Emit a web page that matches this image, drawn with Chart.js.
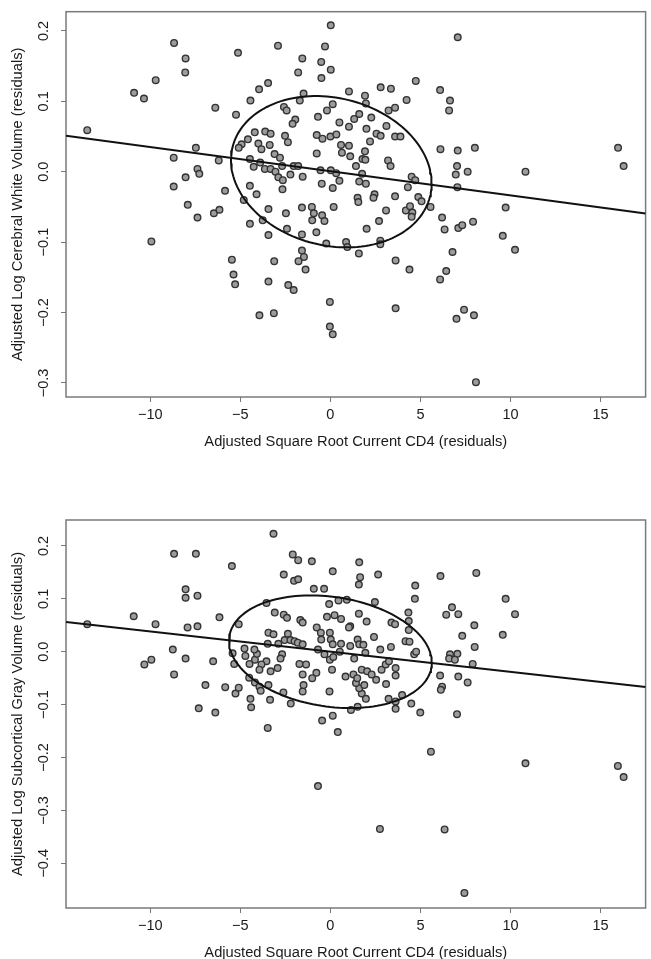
<!DOCTYPE html>
<html>
<head>
<meta charset="utf-8">
<script src="https://cdn.jsdelivr.net/npm/chart.js@4.4.1/dist/chart.umd.min.js"></script>
<style>
  html, body { margin: 0; padding: 0; background: #fff; }
  body { width: 651px; height: 959px; position: relative; overflow: hidden; }
  .panel { position: absolute; left: 0; width: 651px; }
</style>
</head>
<body>
<div class="panel" style="top:0;height:460px"><canvas id="whiteChart" width="651" height="460"></canvas></div>
<div class="panel" style="top:460px;height:511px"><canvas id="grayChart" width="651" height="511"></canvas></div>
<script>
// residuals, top panel (cerebral white volume vs sqrt CD4)
const whiteCd4 = [
  -13.5, -10.9, -10.35, -9.7, -8.68, -8.04, -8.06, -6.39, -5.24, -5.13,
  -4.44, -3.96, -3.46, -2.91, -2.58, -2.43, -1.79, -1.56, -1.49, -1.7,
  -1.95, -2.1, -0.51, 0.02, -0.3, 0.02, -0.5, -0.19, 0.13, -0.69,
  0.5, 1.03, 1.92, 1.97, 1.6, 1.32, 1.03, 2.27, 2.0, 2.2,
  2.79, 3.36, 3.11, 3.23, 3.59, 2.56, 2.79, 3.59, 3.89, 4.23,
  4.74, 6.09, 6.64, 6.59, 7.07, 6.11, 7.07, 8.02, 15.97, -7.47,
  -8.7, -6.2, -4.2, -3.62, -3.32, -4.58, -4.93, -5.09, -4.0, -3.83,
  -3.37, -2.52, -2.36, -3.1, -2.8, -0.76, -0.44, 0.0, 0.33, -0.76,
  0.59, 1.03, 0.64, 1.92, 1.1, 1.78, -4.47,
  -8.04, -7.38, -7.28, -8.7, -7.92, -7.38, -6.47, -6.16, -5.85, -9.94,
  -4.81, -4.47, -4.1, -4.26, -3.64, -3.9, -3.32, -3.05, -2.89, -2.64,
  -2.68, -2.22, -2.04, -1.79, -1.54, -2.66, -3.44, -2.47, -4.47, -3.76,
  -3.44, -2.41, -1.58, -1.03, -0.92, -1.01, -0.46, -0.33, 0.18, -0.78,
  -1.58, -0.23, 0.87, 0.94, 1.58, 2.01, 2.7, 2.77, 2.77, 3.09,
  2.45, 2.39, 1.51, 1.55, 3.59, 4.19, 4.42, 4.55, 4.51, 4.88,
  5.06, 5.56, 4.3, 4.51, 4.71, 3.62, 4.39, 6.2, 6.34, 7.1,
  7.32, 7.92, 7.05, 6.96, 7.03, 7.62, 6.78, 6.43, 6.09, 9.57,
  10.25, 9.73, 10.83, 16.28, -5.47, -5.38, -5.29, -3.12, -3.44, -2.34,
  -2.04, -1.58, -1.47, -1.77, -1.38, -0.03, 3.62, 7.42, -3.94, -3.14,
  -0.03, 0.13, 7.0, 7.97, 8.08,
  1.94, 1.42, 1.76, 1.97, 1.6, 0.5, 0.32, 0.02, -0.55, -0.48,
  0.13, 3.2, 3.34
];
const whiteVol = [
  0.059, 0.112, 0.104, 0.130, 0.183, 0.161, 0.141, 0.091, 0.081, 0.169,
  0.101, 0.117, 0.126, 0.179, 0.092, 0.087, 0.141, 0.161, 0.111, 0.101,
  0.074, 0.068, 0.156, 0.208, 0.178, 0.145, 0.133, 0.087, 0.096, 0.078,
  0.070, 0.114, 0.108, 0.097, 0.082, 0.075, 0.064, 0.077, 0.061, 0.043,
  0.120, 0.118, 0.065, 0.087, 0.091, 0.054, 0.051, 0.050, 0.050, 0.102,
  0.129, 0.116, 0.101, 0.087, 0.191, 0.032, 0.030, 0.034, 0.034, 0.034,
  0.020, 0.016, 0.056, 0.057, 0.054, 0.046, 0.039, 0.034, 0.040, 0.032,
  0.038, 0.051, 0.042, 0.025, 0.020, 0.052, 0.047, 0.050, 0.053, 0.026,
  0.038, 0.037, 0.027, 0.029, 0.022, 0.018, 0.018,
  -0.008, 0.004, -0.003, -0.021, -0.047, -0.065, -0.059, -0.054, -0.027, -0.099,
  -0.040, -0.020, -0.032, 0.007, 0.004, 0.013, 0.004, 0.000, -0.008, -0.012,
  0.008, -0.004, 0.008, 0.008, -0.007, -0.025, -0.053, -0.059, -0.074, -0.069,
  -0.090, -0.081, -0.051, -0.050, -0.059, -0.069, -0.062, -0.070, -0.050, -0.086,
  -0.089, -0.102, -0.100, -0.107, -0.116, -0.081, -0.070, -0.098, -0.103, -0.055,
  -0.032, -0.037, -0.037, -0.043, -0.035, -0.055, -0.049, -0.058, -0.064, -0.036,
  -0.042, -0.050, -0.022, -0.007, -0.012, -0.126, -0.139, -0.065, -0.082, -0.080,
  -0.076, -0.071, -0.022, -0.004, 0.008, 0.000, -0.114, -0.141, -0.153, -0.091,
  -0.111, -0.051, 0.000, 0.008, -0.125, -0.146, -0.160, -0.127, -0.156, -0.161,
  -0.168, -0.112, -0.121, -0.127, -0.139, -0.185, -0.194, -0.196, -0.204, -0.201,
  -0.220, -0.231, -0.209, -0.204, -0.299,
  0.017, 0.008, -0.003, -0.017, -0.014, -0.013, -0.002, 0.002, 0.002, -0.017,
  -0.023, 0.016, 0.008
];

// residuals, bottom panel (subcortical gray volume vs sqrt CD4)
const grayCd4 = [
  -3.16, -8.68, -7.47, -5.47, -2.09, -1.79, -1.03, 1.6, -2.59, -2.02,
  -1.79, 0.13, 1.65, 1.58, 2.65, 6.11, 8.1, 4.71, 4.69, -0.92,
  -0.35, -8.04, -8.04, -7.38, -3.55, -0.07, 0.45, 0.91, 2.47, 9.73,
  10.25, 6.75, 6.43, 7.1, 4.33, 4.35, 3.39, 3.59, 2.01, 1.58,
  1.1, 0.59, 0.23, -0.19, -0.76, -3.09, -2.59, -2.41, -1.67, -1.54,
  -6.16, -10.92, -9.71, -7.93, -7.38, -13.5, 7.99, -5.09,
  7.32, 9.57, 8.01, 7.05, 6.64, 6.59, 6.91, 7.9, 6.09, 6.2,
  6.13, 7.1, 7.62, 7.03, 4.99, 4.49, 3.98, 3.62, 3.62, 3.23,
  1.51, 1.14, -0.46, 0.13, 0.41, -3.48, 5.58, 10.83, 15.96, 16.28,
  -0.69, -10.33, -9.94, -8.75, -8.04, -8.68, -6.51, -6.94, -5.84, -5.27,
  -5.09, -7.31, -6.39, -4.44, -4.4, -3.35, -2.2, -2.61, -1.54, -1.49,
  -0.05, 1.74, 1.97, 1.6, 1.88, 1.42, 2.54, 3.09, 1.28, 1.49,
  0.84, 1.74, 2.04, 2.29, 2.84, 3.07, 3.25, 3.62, 3.62, 0.09,
  -0.78, -1.01, -1.54, -1.72, -1.35, -2.93, -3.32, -3.55, -3.83, -3.94,
  -4.51, -4.19, -3.94, -3.87, -3.44, -4.49, -4.19, -4.08, -4.72, -4.77,
  -4.22, -5.34, -5.43, -3.44, -3.16, -3.48, -2.89, -2.54, -2.36, -2.22,
  -1.99, -1.81, -1.54, -2.68, -2.77, -0.53, -0.51, -0.03, 0.02, 0.13,
  -0.69, -0.33, -0.03, 0.16, 0.59, 1.03, 1.1, 0.52, 1.51, 1.6,
  1.83, 1.94, 1.32, 2.42, 2.77, 3.36, 4.17, 4.39, 4.65, 4.76,
  4.35, 2.75, 6.34, 7.44
];
const grayVol = [
  0.223, 0.185, 0.185, 0.162, 0.184, 0.173, 0.171, 0.169, 0.146, 0.134,
  0.137, 0.152, 0.141, 0.127, 0.146, 0.143, 0.149, 0.125, 0.100, 0.119,
  0.119, 0.118, 0.102, 0.106, 0.092, 0.090, 0.097, 0.098, 0.094, 0.100,
  0.071, 0.084, 0.070, 0.071, 0.074, 0.058, 0.055, 0.052, 0.057, 0.072,
  0.048, 0.062, 0.069, 0.066, 0.046, 0.074, 0.070, 0.064, 0.060, 0.055,
  0.065, 0.067, 0.052, 0.046, 0.048, 0.052, 0.050, 0.052,
  0.030, 0.032, 0.009, -0.004, -0.005, -0.013, -0.015, -0.023, -0.045, -0.066,
  -0.072, -0.047, -0.058, -0.118, -0.115, -0.098, -0.082, -0.108, -0.094, -0.089,
  -0.104, -0.110, -0.130, -0.121, -0.152, -0.144, -0.189, -0.211, -0.216, -0.237,
  -0.254, -0.024, -0.015, 0.004, -0.013, -0.043, -0.018, -0.063, -0.067, -0.079,
  -0.068, -0.107, -0.115, -0.089, -0.105, -0.091, -0.098, -0.077, -0.075, -0.063,
  -0.075, -0.079, -0.089, -0.069, -0.063, -0.059, -0.053, -0.061, -0.043, -0.050,
  -0.047, -0.034, -0.037, -0.043, -0.034, -0.024, -0.018, -0.031, -0.045, -0.034,
  -0.040, -0.050, -0.043, -0.023, -0.024, -0.031, -0.037, -0.018, -0.024, -0.034,
  -0.049, -0.058, -0.066, -0.074, -0.063, -0.023, -0.015, -0.004, -0.008, 0.006,
  0.004, -0.023, -0.003, 0.036, 0.033, 0.015, 0.015, 0.022, 0.034, 0.022,
  0.020, 0.017, 0.014, -0.005, -0.013, 0.036, 0.023, 0.036, 0.023, 0.014,
  0.004, -0.005, -0.015, -0.010, 0.015, 0.046, 0.011, 0.000, 0.023, 0.014,
  0.013, -0.002, -0.013, 0.028, 0.004, 0.009, 0.020, 0.019, -0.005, 0.000,
  0.041, -0.335, -0.336, -0.456
];

// axis ranges and ticks
const cd4Range = [-14.68, 17.5];
const cd4Ticks = [-10, -5, 0, 5, 10, 15];
const whiteRange = [-0.32, 0.2273];
const whiteTicks = [-0.3, -0.2, -0.1, 0.0, 0.1, 0.2];
const grayRange = [-0.4845, 0.249];
const grayTicks = [-0.4, -0.3, -0.2, -0.1, 0.0, 0.1, 0.2];

// fitted line [intercept, slope] and ellipse [cx, cy, a, b, shear]
const whiteFit = [0.0006, -0.00343];
const grayFit = [0.0001, -0.00381];
const whiteEllipse = [0.05, 0.0, 5.57, 0.1062, -0.0165];
const grayEllipse = [0.0, 0.0, 5.63, 0.1045, -0.0205];

const FONT = "'Liberation Sans', Arial, Helvetica, sans-serif";
const fmt = v => {
    if (Math.abs(v) < 1e-9) return v === Math.round(v) && cd4Ticks.includes(v) ? '0' : '0.0';
    return v.toString().replace('-', '\u2212');
};

function ellipsePoints(e) {
    const [cx, cy, a, b, c] = e;
    const pts = [];
    for (let i = 0; i <= 144; i++) {
        const t = i / 144 * 2 * Math.PI;
        pts.push({ x: cx + a * Math.cos(t), y: cy + b * Math.sin(t) + c * Math.cos(t) });
    }
    return pts;
}

const plotBox = {
    id: 'plotBox',
    beforeDatasetsDraw(chart) {
        const { ctx, chartArea: a } = chart;
        ctx.save();
        ctx.strokeStyle = '#7a7a7a';
        ctx.lineWidth = 1.5;
        ctx.strokeRect(a.left, a.top, a.right - a.left, a.bottom - a.top);
        ctx.restore();
    }
};

function createResidualPlot(canvasId, xs, ys, fit, ell, yRange, yTicks, yTitle, padTop) {
    const ctx = document.getElementById(canvasId).getContext('2d');
    const points = xs.map((x, i) => ({ x: x, y: ys[i] }));
    const line = cd4Range.map(x => ({ x: x, y: fit[0] + fit[1] * x }));

    return new Chart(ctx, {
        type: 'scatter',
        data: {
            datasets: [{
                data: line,
                showLine: true,
                pointRadius: 0,
                borderColor: '#111',
                borderWidth: 2
            }, {
                data: ellipsePoints(ell),
                showLine: true,
                pointRadius: 0,
                borderColor: '#111',
                borderWidth: 2
            }, {
                data: points,
                pointRadius: 3.3,
                pointBackgroundColor: '#9c9c9c',
                pointBorderColor: '#333',
                pointBorderWidth: 1.4
            }]
        },
        options: {
            responsive: false,
            animation: false,
            layout: { padding: { top: padTop, right: 2, left: 0, bottom: 0 } },
            plugins: { legend: { display: false }, tooltip: { enabled: false } },
            scales: {
                x: {
                    type: 'linear',
                    min: cd4Range[0],
                    max: cd4Range[1],
                    afterBuildTicks: s => { s.ticks = cd4Ticks.map(v => ({ value: v })); },
                    afterFit: s => { s.height = 63; },
                    grid: { drawOnChartArea: false, drawTicks: true, tickLength: 5, color: '#777' },
                    border: { display: false },
                    ticks: {
                        padding: 4,
                        color: '#1a1a1a',
                        font: { family: FONT, size: 14.5 },
                        callback: v => v === 0 ? '0' : String(v).replace('-', '\u2212')
                    },
                    title: {
                        display: true,
                        text: 'Adjusted Square Root Current CD4 (residuals)',
                        color: '#1a1a1a',
                        font: { family: FONT, size: 14.7 },
                        padding: { top: 0, bottom: 9.5 }
                    }
                },
                y: {
                    type: 'linear',
                    min: yRange[0],
                    max: yRange[1],
                    afterBuildTicks: s => { s.ticks = yTicks.map(v => ({ value: v })); },
                    afterFit: s => { s.width = 66; },
                    grid: { drawOnChartArea: false, drawTicks: true, tickLength: 5, color: '#777' },
                    border: { display: false },
                    ticks: {
                        minRotation: 90,
                        maxRotation: 90,
                        crossAlign: 'center',
                        padding: 3,
                        color: '#1a1a1a',
                        font: { family: FONT, size: 14.5 },
                        callback: v => Math.abs(v) < 1e-9 ? '0.0' : v.toFixed(1).replace('-', '\u2212')
                    },
                    title: {
                        display: true,
                        text: yTitle,
                        color: '#1a1a1a',
                        font: { family: FONT, size: 14.7 },
                        padding: { top: 9.2, bottom: 0 }
                    }
                }
            }
        },
        plugins: [plotBox]
    });
}

createResidualPlot('whiteChart', whiteCd4, whiteVol, whiteFit, whiteEllipse, whiteRange, whiteTicks,
    'Adjusted Log Cerebral White Volume (residuals)', 10);
createResidualPlot('grayChart', grayCd4, grayVol, grayFit, grayEllipse, grayRange, grayTicks,
    'Adjusted Log Subcortical Gray Volume (residuals)', 60);
</script>
</body>
</html>
